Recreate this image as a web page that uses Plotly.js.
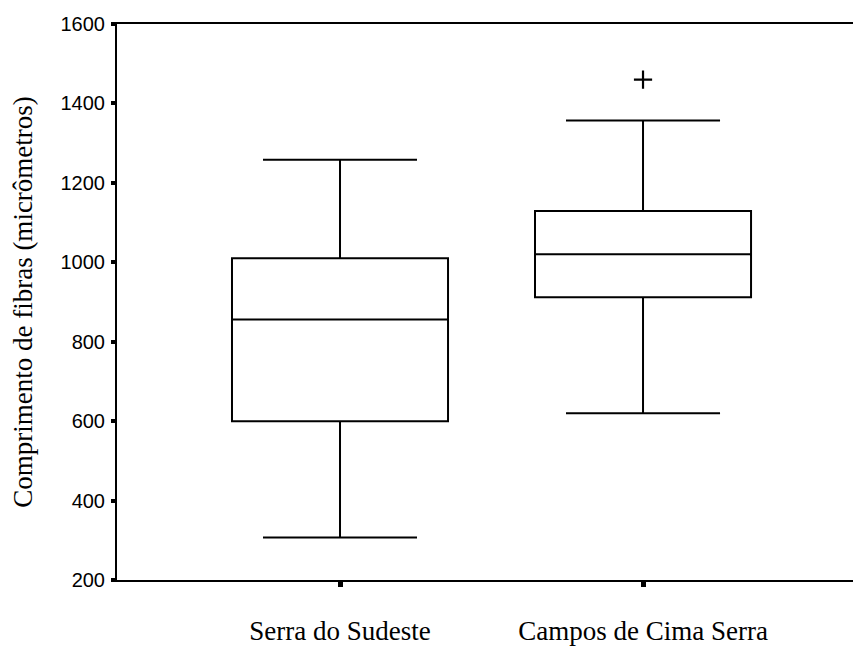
<!DOCTYPE html>
<html>
<head>
<meta charset="utf-8">
<script src="https://cdn.plot.ly/plotly-3.0.1.min.js"></script>
<style>html,body{margin:0;padding:0;background:#fff;}#chart{width:853px;height:648px;}</style>
</head>
<body>
<div id="chart"></div>
<script>
const categories = ["Serra do Sudeste", "Campos de Cima Serra"];
const lowerWhisker = [307, 620];
const q1Values = [600, 912];
const medianValues = [856, 1020];
const q3Values = [1010, 1129];
const upperWhisker = [1258, 1357];
const outlierCategories = ["Campos de Cima Serra"];
const outlierValues = [1460];
const yTickValues = [200, 400, 600, 800, 1000, 1200, 1400, 1600];

const boxTrace = {
  type: "box",
  x: categories,
  q1: q1Values,
  median: medianValues,
  q3: q3Values,
  lowerfence: lowerWhisker,
  upperfence: upperWhisker,
  width: 0.713,
  whiskerwidth: 0.713,
  fillcolor: "#ffffff",
  line: { color: "#000000", width: 2 },
  boxpoints: false,
  hoverinfo: "skip",
  showlegend: false
};

const outlierTrace = {
  type: "scatter",
  mode: "markers",
  x: outlierCategories,
  y: outlierValues,
  marker: { symbol: "cross-thin", size: 13, color: "#000000", line: { color: "#000000", width: 2.2 } },
  hoverinfo: "skip",
  showlegend: false
};

const layout = {
  width: 853,
  height: 648,
  margin: { l: 117, r: 0, t: 24, b: 68 },
  paper_bgcolor: "#ffffff",
  plot_bgcolor: "#ffffff",
  showlegend: false,
  xaxis: {
    type: "category",
    range: [-0.736, 1.693],
    showline: true,
    mirror: true,
    linecolor: "#000000",
    linewidth: 2,
    showgrid: false,
    zeroline: false,
    ticks: "outside",
    ticklen: 5,
    tickwidth: 5,
    tickcolor: "#000000",
    ticklabelstandoff: 21,
    tickfont: { family: "Liberation Serif, Times New Roman, serif", size: 27, color: "#000000" }
  },
  yaxis: {
    range: [200, 1600],
    tickvals: yTickValues,
    showline: true,
    linecolor: "#000000",
    linewidth: 2,
    showgrid: false,
    zeroline: false,
    ticks: "outside",
    ticklen: 4,
    tickwidth: 4,
    tickcolor: "#000000",
    ticklabelstandoff: 2,
    tickfont: { family: "Liberation Sans, Arial, sans-serif", size: 20, color: "#000000" },
    title: {
      text: "Comprimento de fibras (micrômetros)",
      font: { family: "Liberation Serif, Times New Roman, serif", size: 27, color: "#000000" },
      standoff: 20
    }
  }
};

Plotly.newPlot("chart", [boxTrace, outlierTrace], layout, { displayModeBar: false, staticPlot: true });
</script>
</body>
</html>
